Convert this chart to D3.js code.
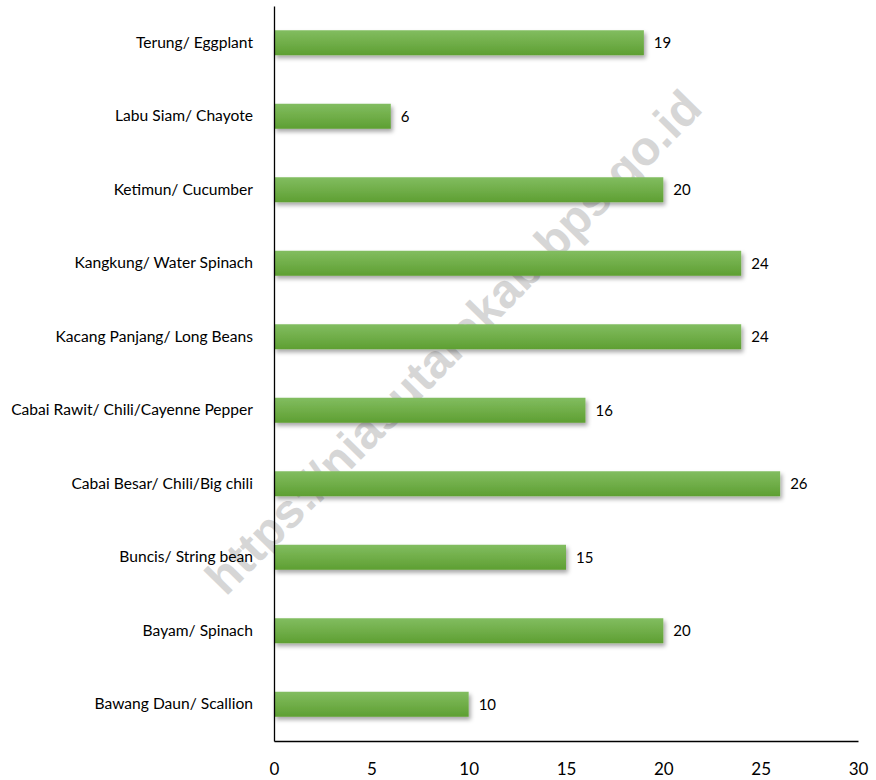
<!DOCTYPE html>
<html lang="en">
<head>
<meta charset="UTF-8">
<title>Vegetable production</title>
<style>
  body { margin: 0; background: #fff; }
  #chart { width: 876px; height: 780px; }
  text { font-family: Lato, "Open Sans", sans-serif; fill: #000; }
</style>
</head>
<body>
<div id="chart"></div>
<script src="https://d3js.org/d3.v7.min.js"></script>
<script>
// categories listed top to bottom, as in the picture
const categories = [
  "Terung/ Eggplant",
  "Labu Siam/ Chayote",
  "Ketimun/ Cucumber",
  "Kangkung/ Water Spinach",
  "Kacang Panjang/ Long Beans",
  "Cabai Rawit/ Chili/Cayenne Pepper",
  "Cabai Besar/ Chili/Big chili",
  "Buncis/ String bean",
  "Bayam/ Spinach",
  "Bawang Daun/ Scallion"
];
const values = [19, 6, 20, 24, 24, 16, 26, 15, 20, 10];
const xTicks = [0, 5, 10, 15, 20, 25, 30];
const watermark = "https://niasutarakab.bps.go.id";

const W = 876, H = 780;
const margin = { top: 6, right: 18, bottom: 39, left: 274 };
const width = W - margin.left - margin.right,
      height = H - margin.top - margin.bottom;

const svg = d3.select("#chart").append("svg")
    .attr("width", W)
    .attr("height", H);

const defs = svg.append("defs");
const grad = defs.append("linearGradient")
    .attr("id", "barGrad")
    .attr("x1", 0).attr("y1", 0).attr("x2", 0).attr("y2", 1);
grad.append("stop").attr("offset", "0%").attr("stop-color", "#82bd60");
grad.append("stop").attr("offset", "100%").attr("stop-color", "#5e9f32");

const shadow = defs.append("filter")
    .attr("id", "shadow")
    .attr("x", "-5%").attr("y", "-30%")
    .attr("width", "115%").attr("height", "180%");
shadow.append("feDropShadow")
    .attr("dx", 2).attr("dy", 3)
    .attr("stdDeviation", 2)
    .attr("flood-color", "#000")
    .attr("flood-opacity", 0.35);

// watermark sits behind the bars
svg.append("text")
    .attr("transform", "translate(453,342) rotate(-45.5)")
    .attr("text-anchor", "middle")
    .attr("dy", "0.35em")
    .style("font-family", "Liberation Sans, Arial, sans-serif")
    .style("font-weight", "bold")
    .style("font-size", "48px")
    .style("fill", "#d6d6d6")
    .text(watermark);

const g = svg.append("g")
    .attr("transform", `translate(${margin.left},${margin.top})`);

const x = d3.scaleLinear()
    .domain([0, 30])
    .range([0, width]);

const y = d3.scaleBand()
    .domain(categories)
    .range([0, height])
    .paddingInner(0.66)
    .paddingOuter(0.33);

// bars
g.append("g")
  .selectAll("rect")
  .data(categories)
  .join("rect")
    .attr("x", 0)
    .attr("y", d => y(d))
    .attr("width", (d, i) => x(values[i]))
    .attr("height", y.bandwidth())
    .attr("fill", "url(#barGrad)")
    .attr("filter", "url(#shadow)");

// value labels
g.append("g")
  .selectAll("text")
  .data(categories)
  .join("text")
    .attr("x", (d, i) => x(values[i]) + 10)
    .attr("y", d => y(d) + y.bandwidth() / 2)
    .attr("dy", "0.35em")
    .style("font-size", "15px")
    .text((d, i) => values[i]);

// y axis
const yAxis = g.append("g")
    .call(d3.axisLeft(y).tickSize(0).tickPadding(21));
yAxis.select(".domain").attr("stroke", "#000").attr("stroke-width", 1.3);
yAxis.selectAll("text")
    .style("font-family", "Lato, sans-serif")
    .style("font-size", "15.6px");

// x axis
const xAxis = g.append("g")
    .attr("transform", `translate(0,${height})`)
    .call(d3.axisBottom(x).tickValues(xTicks).tickSize(0).tickPadding(22));
xAxis.select(".domain").attr("stroke", "#000").attr("stroke-width", 1.3);
xAxis.selectAll("text")
    .style("font-family", "Lato, sans-serif")
    .style("font-size", "17px");
</script>
</body>
</html>
